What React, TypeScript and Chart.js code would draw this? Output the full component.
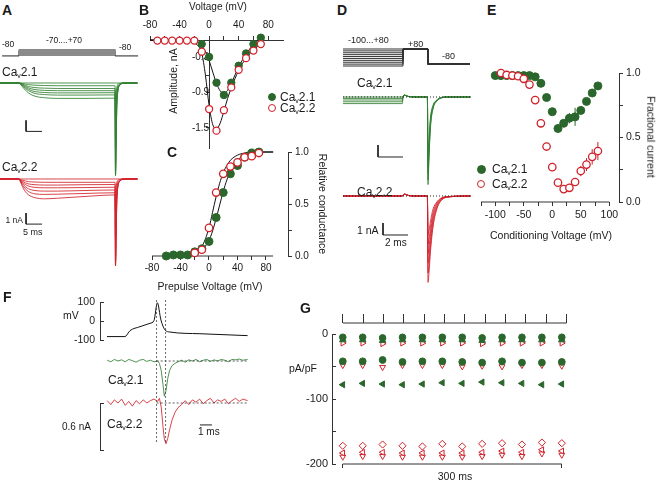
import React, { useEffect, useRef } from 'react';
import { Chart, registerables } from 'chart.js';
Chart.register(...registerables);

const FONT = "'Liberation Sans', Arial, Helvetica, sans-serif";
Chart.defaults.font.family = FONT;
const GREEN = '#2b672d';
const GREEN_TR = 'rgba(50,128,50,0.85)';
const RED = '#d0222b';
const RED_TR = 'rgba(210,34,44,0.85)';
const AX = '#333';
const TXT = '#1a1a1a';

// ---------------- Panel A (currents, nA vs ms) ----------------
const A_T = [-6, 0, 0.5, 1, 2, 3, 5, 8, 12, 20, 30, 30.15, 30.6, 31.5, 33, 37];
const A_GREEN = [
  [0, 0, 0, 0, 0, 0, 0, 0, 0, 0, 0, 0, 0, 0, 0, 0],
  [0, 0, -0.02, -0.05, -0.1, -0.15, -0.2, -0.23, -0.25, -0.25, -0.25, -1.5, -0.3, -0.05, 0, 0],
  [0, 0, -0.04, -0.1, -0.22, -0.32, -0.42, -0.47, -0.5, -0.5, -0.5, -3.5, -0.7, -0.1, 0, 0],
  [0, 0, -0.06, -0.15, -0.3, -0.45, -0.6, -0.67, -0.7, -0.7, -0.7, -6, -1.2, -0.15, 0, 0],
  [0, 0, -0.08, -0.2, -0.4, -0.58, -0.78, -0.86, -0.9, -0.9, -0.88, -8, -1.6, -0.2, 0, 0],
  [0, 0, -0.1, -0.25, -0.5, -0.7, -0.95, -1.05, -1.1, -1.1, -1.08, -8.4, -1.7, -0.2, 0, 0],
  [0, 0, -0.13, -0.32, -0.65, -0.92, -1.2, -1.34, -1.4, -1.4, -1.38, -8.4, -1.8, -0.2, 0, 0],
];
const A_RED = [
  [0, 0, 0, 0, 0, 0, 0, 0, 0, 0, 0, 0, 0, 0, 0, 0],
  [0, 0, -0.05, -0.1, -0.18, -0.24, -0.28, -0.3, -0.3, -0.3, -0.3, -1.2, -0.25, -0.05, 0, 0],
  [0, 0, -0.1, -0.2, -0.35, -0.45, -0.52, -0.55, -0.55, -0.52, -0.5, -3, -0.6, -0.1, 0, 0],
  [0, 0, -0.15, -0.3, -0.5, -0.65, -0.76, -0.8, -0.8, -0.78, -0.75, -5.5, -1.1, -0.15, 0, 0],
  [0, 0, -0.2, -0.4, -0.7, -0.9, -1.05, -1.1, -1.1, -1.05, -1.0, -7.5, -1.5, -0.2, 0, 0],
  [0, 0, -0.25, -0.5, -0.9, -1.15, -1.35, -1.4, -1.38, -1.32, -1.25, -7.9, -1.6, -0.2, 0, 0],
  [0, 0, -0.3, -0.65, -1.15, -1.45, -1.7, -1.8, -1.75, -1.6, -1.45, -7.9, -1.7, -0.2, 0, 0],
];
const A_HOLD = -80;
const A_STEPS = [-70, -60, -50, -40, -30, -20, -10, 0, 10, 20, 30, 40, 50, 60, 70];
const A_STEP_ON = 0;
const A_STEP_OFF = 30;
const A_BAR_T = [2.2, 2.2, 7.2];
const A_BAR_GREEN = [-3.4, -4.4, -4.4];
const A_BAR_RED = [-3.1, -4.1, -4.1];

// ---------------- Panel B (I-V) ----------------
const B_V_GREEN = [-10, 0, 10, 20, 30, 40, 50, 60, 70];
const B_I_GREEN = [-0.07, -0.29, -0.73, -0.94, -0.73, -0.44, -0.23, -0.07, 0.04];
const B_V_RED = [-70, -60, -50, -40, -30, -20, -10, 0, 10, 20, 30, 40, 50, 60, 70];
const B_I_RED = [-0.01, -0.01, -0.01, -0.01, -0.01, -0.01, -0.2, -1.18, -1.55, -1.2, -0.81, -0.51, -0.31, -0.18, -0.07];
const B_FIT_V = [-80, -40, -30, -20, -15, -10, -5, 0, 5, 10, 15, 20, 25, 30, 40, 50, 60, 70];
const B_FIT_GREEN = [0, 0, -0.005, -0.02, -0.05, -0.1, -0.2, -0.35, -0.55, -0.74, -0.87, -0.91, -0.86, -0.74, -0.46, -0.24, -0.08, 0.03];
const B_FIT_RED = [0, 0, -0.01, -0.05, -0.1, -0.22, -0.6, -1.12, -1.45, -1.52, -1.42, -1.22, -1.0, -0.82, -0.52, -0.31, -0.17, -0.07];

// ---------------- Panel C (activation) ----------------
const C_V_GREEN = [-60, -50, -40, -30, -20, -10, 0, 10, 20, 30, 40, 50, 60, 70];
const C_G_GREEN = [0.0, 0.01, 0.01, 0.01, 0.04, 0.07, 0.14, 0.37, 0.61, 0.79, 0.87, 0.95, 0.99, 1.0];
const C_ERR_GREEN = [0, 0, 0, 0, 0, 0.01, 0.02, 0.03, 0.03, 0.03, 0.04, 0.02, 0, 0];
const C_V_RED = [-20, -10, 0, 10, 20, 30, 40, 50, 60, 70];
const C_G_RED = [0.03, 0.06, 0.27, 0.61, 0.79, 0.86, 0.9, 0.95, 0.96, 0.99];
const C_ERR_RED = [0, 0, 0.02, 0.03, 0.02, 0.02, 0.02, 0.01, 0, 0];
const C_FIT_V = [-60, -40, -30, -20, -10, 0, 5, 10, 15, 20, 25, 30, 40, 50, 60, 70, 80, 90];
const C_FIT_GREEN = [0, 0.003, 0.007, 0.02, 0.06, 0.15, 0.24, 0.36, 0.49, 0.62, 0.73, 0.81, 0.92, 0.97, 0.99, 1.0, 1.0, 1.0];
const C_FIT_RED = [0, 0.005, 0.01, 0.03, 0.09, 0.27, 0.42, 0.57, 0.7, 0.8, 0.87, 0.92, 0.97, 0.99, 1.0, 1.0, 1.0, 1.0];

// ---------------- Panel D (inactivation traces) ----------------
const D_T = [-6.8, -2.05, -2.0, -1.85, -1.6, -1.0, -0.05, 0.0, 0.08, 0.2, 0.4, 0.7, 1.0, 1.5, 3.4];
const D_GREEN = [
  [0, 0, 0.05, 0.15, 0.05, 0, 0, -7.3, -5.0, -2.5, -1.0, -0.35, -0.1, 0, 0],
  [-0.12, -0.12, 0.05, 0.15, 0.05, 0, 0, -6.9, -4.7, -2.3, -0.9, -0.3, -0.1, 0, 0],
  [-0.25, -0.25, 0.05, 0.15, 0.05, 0, 0, -6.4, -4.4, -2.1, -0.85, -0.3, -0.08, 0, 0],
  [-0.4, -0.4, 0.05, 0.15, 0.05, 0, 0, -5.8, -4.0, -1.9, -0.8, -0.28, -0.08, 0, 0],
  [-0.55, -0.55, 0.05, 0.15, 0.05, 0, 0, -5.2, -3.6, -1.7, -0.7, -0.25, -0.07, 0, 0],
];
const D_RED = [
  [0, 0, 0.08, 0.15, 0.05, 0, 0, -7.2, -6.4, -4.6, -2.6, -1.1, -0.45, -0.1, 0],
  [0, 0, 0.08, 0.15, 0.05, 0, 0, -6.4, -5.7, -4.1, -2.3, -1.0, -0.4, -0.1, 0],
  [0, 0, 0.08, 0.15, 0.05, 0, 0, -5.6, -5.0, -3.6, -2.0, -0.85, -0.35, -0.08, 0],
  [0, 0, 0.08, 0.15, 0.05, 0, 0, -4.8, -4.3, -3.1, -1.7, -0.7, -0.3, -0.07, 0],
  [0, 0, 0.08, 0.15, 0.05, 0, 0, -4.0, -3.6, -2.6, -1.4, -0.6, -0.25, -0.05, 0],
  [0, 0, 0.08, 0.15, 0.05, 0, 0, -3.2, -2.9, -2.1, -1.1, -0.5, -0.2, -0.05, 0],
];
const D_STEPS = [-100, -80, -60, -40, -20, 0, 20, 40, 60, 80];
const D_TEST = 80;
const D_HOLD = -80;
const D_PROTO_T = [-6.8, -2, -2, 0, 0, 3.36];
const D_BAR_T = [-4, -4, -2];
const D_BAR_GREEN = [-4, -5, -5];
const D_BAR_T2 = [-3.6, -3.6, -1.6];
const D_BAR_RED = [-2.25, -3.25, -3.25];

// ---------------- Panel E (fractional current) ----------------
const E_V_GREEN = [-100, -90, -80, -70, -60, -50, -40, -30, -20, -10, 0, 10, 20, 30, 40, 50, 60, 70, 80];
const E_F_GREEN = [0.98, 0.98, 0.98, 0.98, 0.98, 0.98, 0.98, 0.97, 0.92, 0.81, 0.7, 0.57, 0.61, 0.65, 0.66, 0.71, 0.78, 0.845, 0.9];
const E_ERR_GREEN = [0, 0, 0, 0, 0, 0, 0, 0, 0, 0, 0.01, 0.01, 0.02, 0.04, 0.07, 0.03, 0.01, 0.01, 0.01];
const E_V_RED = [-90, -80, -70, -60, -50, -40, -30, -20, -10, 0, 10, 20, 30, 40, 50, 60, 70, 80];
const E_F_RED = [1.0, 0.985, 0.98, 0.975, 0.955, 0.91, 0.79, 0.61, 0.43, 0.27, 0.15, 0.1, 0.11, 0.155, 0.24, 0.29, 0.35, 0.395];
const E_ERR_RED = [0, 0, 0, 0, 0.01, 0.02, 0.02, 0.03, 0.03, 0.025, 0.02, 0.015, 0.02, 0.03, 0.04, 0.05, 0.06, 0.07];

// ---------------- Panel F (AP clamp) ----------------
const AP_T = [0.58, 2.08, 2.5, 3.33, 4.17, 4.5, 4.78, 5.08, 5.42, 5.83, 8.33, 12.3];
const AP_V = [-82, -82, -51, -30, -12, 2, 96, 5, -47, -58, -67, -77];
const F_T = [0.6, 0.9, 1.2, 1.5, 1.8, 2.1, 2.4, 2.7, 3.0, 3.3, 3.6, 3.9, 4.2, 4.5, 4.8, 4.95, 5.1, 5.25, 5.36, 5.5,
  5.65, 5.8, 6.0, 6.25, 6.5, 6.8, 7.1, 7.4, 7.7, 8.0, 8.3, 8.6, 8.9, 9.2, 9.5, 9.8, 10.1, 10.4, 10.7, 11.0, 11.3, 11.6, 11.9, 12.3];
const F_GREEN = [0.01, -0.01, 0.02, 0.0, 0.015, -0.01, 0.02, 0.005, -0.015, 0.01, 0.02, -0.005, 0.01, -0.01, 0.0, -0.03, -0.12, -0.3, -0.45, -0.38,
  -0.22, -0.12, -0.06, -0.03, -0.01, 0.01, -0.015, 0.015, 0.0, 0.02, -0.01, 0.01, 0.02, -0.005, 0.015, 0.0, 0.02, 0.01, -0.01, 0.02, 0.015, 0.025, 0.01, 0.02];
const F_RED = [0.03, -0.02, 0.04, 0.0, 0.05, -0.03, 0.02, -0.04, 0.03, -0.01, 0.04, 0.0, 0.03, 0.05, 0.02, 0.06, -0.05, -0.3, -0.46, -0.52,
  -0.45, -0.34, -0.22, -0.12, -0.06, -0.02, 0.03, -0.02, 0.04, 0.01, 0.05, -0.01, 0.03, 0.06, 0.0, 0.04, 0.02, 0.05, -0.01, 0.03, 0.06, 0.02, 0.05, 0.03];
const F_MARK_T = [4.72, 5.47];
const F_BASE_T = [4.72, 12.3];
const F_BAR_T = [8.33, 9.33];
const F_BAR_I = [-0.28, -0.28];

// ---------------- Panel G (pA/pF per pulse) ----------------
const G_PULSE = [1, 2, 3, 4, 5, 6, 7, 8, 9, 10, 11, 12];
const G_S1 = [-5, -5, -6, -5, -5, -5, -5, -6, -5, -5, -5, -5];
const G_S2 = [-9, -9, -10, -9, -9, -9, -9, -10, -9, -9, -9, -9];
const G_S3 = [-14, -14, -15, -14, -14, -14, -14, -15, -14, -14, -14, -14];
const G_S4 = [-42, -42, -40, -43, -42, -42, -43, -44, -42, -44, -44, -43];
const G_S5 = [-48, -48, -51, -48, -48, -48, -50, -49, -50, -48, -48, -49];
const G_S6 = [-78, -76, -77, -78, -77, -75, -76, -74, -75, -76, -78, -77];
const G_S7 = [-172, -172, -170, -172, -173, -169, -173, -169, -168, -170, -167, -168];
const G_S8 = [-183, -182, -182, -183, -183, -183, -183, -182, -180, -182, -178, -180];
const G_S9 = [-189, -188, -188, -189, -189, -189, -189, -188, -186, -188, -184, -186];

// ---------------- helpers ----------------
const xy = (xs: number[], ys: number[]) => xs.map((x, i) => ({ x, y: ys[i] }));

const line = (pts: any[], color: string, width = 1, extra: any = {}) => ({
  data: pts, borderColor: color, borderWidth: width, pointRadius: 0, fill: false,
  tension: 0, clip: false, ...extra,
});
const smooth = (pts: any[], color: string, width = 1, extra: any = {}) =>
  line(pts, color, width, { cubicInterpolationMode: 'monotone', ...extra });

const marks = (pts: any[], fill: string, stroke: string, r = 4, style: any = 'circle', rot = 0, bw = 1.2, extra: any = {}) => ({
  data: pts, showLine: false, pointRadius: r, pointStyle: style, pointRotation: rot,
  pointBackgroundColor: fill, pointBorderColor: stroke, pointBorderWidth: bw,
  borderColor: stroke, backgroundColor: fill, clip: false, ...extra,
});

const hidden = (min: number, max: number) => ({ type: 'linear', display: false, min, max });

function axis(o: any) {
  const { min, max, position, ticks, labels = ticks, fmt = (v: number) => String(v), tl = 4, pad = 3, fit, border = true, size = 10 } = o;
  return {
    type: 'linear', min, max, position,
    afterBuildTicks: (s: any) => { s.ticks = ticks.map((v: number) => ({ value: v })); },
    afterFit: fit === undefined ? undefined : (s: any) => { if (s.isHorizontal()) s.height = fit; else s.width = fit; },
    grid: { drawOnChartArea: false, drawTicks: true, tickLength: tl, color: AX, lineWidth: 1 },
    border: { display: border, color: AX, width: 1 },
    ticks: {
      autoSkip: false, maxRotation: 0, minRotation: 0, padding: pad, color: TXT, font: { size, family: FONT },
      callback: (v: number) => (labels.some((l: number) => Math.abs(l - v) < 1e-9) ? fmt(v) : ''),
    },
  };
}

const errPlugin = {
  id: 'errbars',
  beforeDatasetsDraw(chart: any) {
    const ctx = chart.ctx;
    const ys = chart.scales.y;
    chart.data.datasets.forEach((ds: any, i: number) => {
      if (!ds.errs) return;
      const meta = chart.getDatasetMeta(i);
      ctx.save();
      ctx.strokeStyle = ds.pointBorderColor;
      ctx.lineWidth = 1;
      ds.data.forEach((p: any, j: number) => {
        const e = ds.errs[j];
        if (!e) return;
        const px = meta.data[j].x;
        ctx.beginPath();
        ctx.moveTo(px, ys.getPixelForValue(p.y - e));
        ctx.lineTo(px, ys.getPixelForValue(p.y + e));
        ctx.stroke();
      });
      ctx.restore();
    });
  },
};

function cfg(datasets: any[], scales: any, padding: any = 0, plugins: any[] = []) {
  return {
    type: 'line',
    data: { datasets },
    plugins,
    options: {
      animation: false, responsive: false, devicePixelRatio: 1, events: [],
      layout: { padding },
      plugins: { legend: { display: false }, tooltip: { enabled: false } },
      scales,
    },
  };
}

function ChartBox({ x, y, w, h, make }: any) {
  const ref = useRef<HTMLCanvasElement>(null);
  useEffect(() => {
    const c = new Chart(ref.current as any, make());
    return () => c.destroy();
  }, []);
  return <canvas ref={ref} width={w} height={h} style={{ position: 'absolute', left: x, top: y, width: w, height: h }} />;
}

// ---------------- chart builders ----------------
const A_X = hidden(-5.94, 37.81);

const mkAProto = () => {
  const ds: any[] = [
    line(xy([-5.3, A_STEP_ON], [A_HOLD, A_HOLD]), '#222'),
    line(xy([A_STEP_OFF, 37.2], [A_HOLD, A_HOLD]), '#222'),
  ];
  A_STEPS.forEach((L) => ds.push(line(xy([A_STEP_ON, A_STEP_ON, A_STEP_OFF, A_STEP_OFF], [A_HOLD, L, L, A_HOLD]), '#8a8a8a')));
  return cfg(ds, { x: A_X, y: hidden(-151.7, 128.3) });
};
const mkATraces = (traces: number[][], color: string, bar: number[], ymin: number, ymax: number) => () => {
  const ds: any[] = [line(xy(A_BAR_T, bar), '#222')];
  traces.forEach((tr) => ds.push(smooth(xy(A_T, tr), color)));
  return cfg(ds, { x: A_X, y: hidden(ymin, ymax) });
};

const mkB = () => cfg(
  [
    marks(xy(B_V_RED, B_I_RED), '#fff', RED, 3.5, 'circle', 0, 1.3),
    marks(xy(B_V_GREEN, B_I_GREEN), GREEN, GREEN, 3.7, 'circle', 0, 1),
    smooth(xy(B_FIT_V, B_FIT_RED), '#111', 1),
    smooth(xy(B_FIT_V, B_FIT_GREEN), '#111', 1),
  ],
  {
    x: axis({ min: -80, max: 100, position: 'top', ticks: [-80, -60, -40, -20, 0, 20, 40, 60, 80], labels: [-80, -40, 0, 40, 80], tl: 4, pad: 5, fit: 25 }),
    y: axis({ min: -1.846, max: 0, position: { x: 0 }, ticks: [-1.5, -1.2, -0.9, -0.6, -0.3], labels: [-1.5, -0.9, -0.3], fmt: (v: number) => v.toFixed(1), tl: 3, pad: 3 }),
  },
  { left: 13, right: 7, bottom: 10, top: 0 },
);

const mkC = () => cfg(
  [
    { ...marks(xy(C_V_RED, C_G_RED), '#fff', RED, 3.7, 'circle', 0, 1.3), errs: C_ERR_RED },
    { ...marks(xy(C_V_GREEN, C_G_GREEN), GREEN, GREEN, 4, 'circle', 0, 1), errs: C_ERR_GREEN },
    smooth(xy(C_FIT_V, C_FIT_RED), '#111', 1),
    smooth(xy(C_FIT_V, C_FIT_GREEN), '#111', 1),
    line(xy([-80, 90], [0, 0]), AX, 1),
  ],
  {
    x: axis({ min: -80, max: 110.9, position: 'bottom', ticks: [-80, -60, -40, -20, 0, 20, 40, 60, 80], labels: [-80, -40, 0, 40, 80], tl: 4, pad: 2, fit: 44, border: false }),
    y: axis({ min: 0, max: 1, position: 'right', ticks: [0, 0.25, 0.5, 0.75, 1], labels: [0, 0.5, 1], fmt: (v: number) => v.toFixed(1), tl: 4, pad: 3, fit: 32 }),
  },
  { left: 12, top: 12, right: 0, bottom: 0 },
  [errPlugin],
);

const D_X = hidden(-7.04, 3.52);
const mkDProto = () => {
  const ds: any[] = [];
  D_STEPS.forEach((L) => ds.push(line(xy(D_PROTO_T, [L, L, D_TEST, D_TEST, D_HOLD, D_HOLD]), '#333')));
  return cfg(ds, { x: D_X, y: hidden(-142.35, 122.35) });
};
const mkDTraces = (traces: number[][], color: string, barT: number[], bar: number[]) => () => {
  const ds: any[] = [
    line(xy([-6.8, 3.4], [0, 0]), '#222', 1, { borderDash: [1, 2] }),
    line(xy(barT, bar), '#222'),
  ];
  traces.forEach((tr) => ds.push(smooth(xy(D_T, tr), color)));
  return cfg(ds, { x: D_X, y: hidden(-7.75, 0.583) });
};

const mkE = () => cfg(
  [
    { ...marks(xy(E_V_RED, E_F_RED), '#fff', RED, 3.7, 'circle', 0, 1.3), errs: E_ERR_RED },
    { ...marks(xy(E_V_GREEN, E_F_GREEN), GREEN, GREEN, 4, 'circle', 0, 1), errs: E_ERR_GREEN },
    line(xy([-125, 100], [0, 0]), AX, 1),
  ],
  {
    x: axis({ min: -125, max: 117, position: 'bottom', ticks: [-125, -100, -75, -50, -25, 0, 25, 50, 75, 100], labels: [-100, -50, 0, 50, 100], tl: 4, pad: 3, fit: 43, border: false, size: 10.5 }),
    y: axis({ min: 0, max: 1, position: 'right', ticks: [0, 0.25, 0.5, 0.75, 1], labels: [0, 0.5, 1], fmt: (v: number) => v.toFixed(1), tl: 4, pad: 3, fit: 37, size: 10.5 }),
  },
  { left: 11, top: 13, right: 0, bottom: 0 },
  [errPlugin],
);

const F_X = hidden(0, 12.917);
// AP chart: canvas top 286 -> chart area 302..340
const mkFAP = () => cfg(
  [smooth(xy(AP_T, AP_V), '#111', 1)],
  {
    x: F_X,
    y: axis({ min: -100, max: 100, position: 'left', ticks: [-100, 0, 100], tl: -4, pad: 9, fit: 40, size: 10.5 }),
  },
  { top: 16, bottom: 16, left: 0, right: 0 },
);
const mkFGreen = () => cfg(
  [
    line(xy(F_BASE_T, [0, 0]), '#333', 0.8, { borderDash: [2, 2] }),
    line(xy(F_T, F_GREEN), GREEN_TR, 1),
  ],
  { x: F_X, y: hidden(-0.498, 0.1405) },
  { left: 5 },
);
// red current chart: canvas top 387 -> chart area 403..450
const mkFRed = () => cfg(
  [
    line(xy(F_BASE_T, [0, 0]), '#333', 0.8, { borderDash: [2, 2] }),
    line(xy(F_BAR_T, F_BAR_I), '#222', 1),
    line(xy(F_T, F_RED), RED_TR, 1),
  ],
  {
    x: F_X,
    y: axis({ min: -0.6, max: 0, position: 'left', ticks: [-0.6, 0], labels: [], tl: -4, pad: 9, fit: 40 }),
  },
  { top: 16, bottom: 16, left: 0, right: 0 },
);
const mkFOverlay = () => cfg(
  F_MARK_T.map((t) => line(xy([t, t], [151, 7]), '#444', 0.8, { borderDash: [2, 2] })),
  { x: F_X, y: hidden(0, 155) },
  { left: 5 },
);

const G_XR = { min: 0.4587, max: 12.713 };
// main G chart: canvas top 318 -> chart area 334..464
const mkG = () => cfg(
  [
    marks(xy(G_PULSE, G_S1), GREEN, GREEN, 3.3, 'circle', 0, 1),
    marks(xy(G_PULSE, G_S2), GREEN, GREEN, 3.8, 'triangle', 0, 1),
    marks(xy(G_PULSE, G_S3), '#fff', RED, 3.4, 'triangle', 90, 1),
    marks(xy(G_PULSE, G_S4), GREEN, GREEN, 3.4, 'circle', 0, 1),
    marks(xy(G_PULSE, G_S5), '#fff', RED, 3.4, 'triangle', 180, 1),
    marks(xy(G_PULSE, G_S6), GREEN, GREEN, 3.6, 'triangle', 270, 1),
    marks(xy(G_PULSE, G_S7), '#fff', RED, 3.6, 'rectRot', 0, 1),
    marks(xy(G_PULSE, G_S8), '#fff', RED, 3.4, 'triangle', 270, 1),
    marks(xy(G_PULSE, G_S9), '#fff', RED, 3.4, 'triangle', 180, 1),
    line(xy([1, 12], [-200, -200]), AX, 1),
  ],
  {
    x: axis({ ...G_XR, position: 'bottom', ticks: [1, 12], labels: [], tl: 4, pad: 0, fit: 17, border: false }),
    y: axis({ min: -200, max: 0, position: 'left', ticks: [-200, -150, -100, -50, 0], labels: [-200, -100, 0], tl: -4, pad: 8, fit: 42, size: 11 }),
  },
  { top: 16, right: 0, bottom: 0, left: 0 },
);
const mkGComb = () => cfg(
  [line(xy([1, 12], [1, 1]), '#333', 1)],
  {
    x: axis({ ...G_XR, position: 'top', ticks: G_PULSE, labels: [], tl: 9, pad: 0, fit: 13, border: false }),
    y: hidden(0, 1),
  },
  { left: 42, right: 0, top: 0, bottom: 0 },
);

// ---------------- text ----------------
function Txt({ x, y, s = 10, a = 'l', b = false, r = 0, children }: any) {
  const tx = a === 'l' ? '0%' : a === 'c' ? '-50%' : '-100%';
  return (
    <div style={{
      position: 'absolute', left: x, top: y,
      transform: `translate(${tx}, -50%)` + (r ? ` rotate(${r}deg)` : ''),
      fontSize: s, fontWeight: b ? 700 : 400, lineHeight: 1, whiteSpace: 'nowrap', color: TXT, fontFamily: FONT,
    }}>{children}</div>
  );
}
const Cav = ({ n }: any) => (
  <span>Ca<span style={{ fontSize: '0.58em', position: 'relative', top: '0.35em' }}>v</span>{n}</span>
);
const Dot = ({ x, y, r = 4.3, fill, stroke }: any) => (
  <div style={{ position: 'absolute', left: x - r, top: y - r, width: 2 * r, height: 2 * r, borderRadius: '50%', background: fill, border: `1.3px solid ${stroke}`, boxSizing: 'border-box' }} />
);

export default function App() {
  return (
    <div style={{ position: 'absolute', left: 0, top: 0, width: 656, height: 481, background: '#fff', overflow: 'hidden', fontFamily: FONT }}>
      {/* Panel A */}
      <ChartBox x={0} y={47} w={140} h={12} make={mkAProto} />
      <ChartBox x={0} y={78} w={140} h={102} make={mkATraces(A_GREEN, GREEN_TR, A_BAR_GREEN, -8.818, 0.4545)} />
      <ChartBox x={0} y={172} w={140} h={96} make={mkATraces(A_RED, RED_TR, A_BAR_RED, -8.09, 0.636)} />
      {/* Panel B, C */}
      <ChartBox x={137} y={15} w={153} h={143} make={mkB} />
      <ChartBox x={140} y={140} w={180} h={160} make={mkC} />
      {/* Panel D */}
      <ChartBox x={340} y={45} w={132} h={25} make={mkDProto} />
      <ChartBox x={340} y={90} w={132} h={100} make={mkDTraces(D_GREEN, GREEN_TR, D_BAR_T, D_BAR_GREEN)} />
      <ChartBox x={340} y={189} w={132} h={100} make={mkDTraces(D_RED, RED_TR, D_BAR_T2, D_BAR_RED)} />
      {/* Panel E */}
      <ChartBox x={470} y={60} w={186} h={185} make={mkE} />
      {/* Panel F */}
      <ChartBox x={60} y={286} w={195} h={70} make={mkFAP} />
      <ChartBox x={95} y={350} w={160} h={50} make={mkFGreen} />
      <ChartBox x={60} y={387} w={195} h={79} make={mkFRed} />
      <ChartBox x={95} y={296} w={160} h={155} make={mkFOverlay} />
      {/* Panel G */}
      <ChartBox x={290} y={310} w={291} h={16} make={mkGComb} />
      <ChartBox x={290} y={318} w={291} h={163} make={mkG} />

      {/* panel letters */}
      <Txt x={2} y={10} s={14} b>A</Txt>
      <Txt x={139} y={10} s={14} b>B</Txt>
      <Txt x={167} y={152} s={14} b>C</Txt>
      <Txt x={337} y={10} s={14} b>D</Txt>
      <Txt x={487} y={10} s={14} b>E</Txt>
      <Txt x={3} y={297} s={14} b>F</Txt>
      <Txt x={300} y={308} s={14} b>G</Txt>

      {/* A texts */}
      <Txt x={2} y={44} s={8.5}>-80</Txt>
      <Txt x={64} y={39.5} s={8.5} a="c">-70....+70</Txt>
      <Txt x={119} y={47} s={8.5}>-80</Txt>
      <Txt x={2} y={72} s={12}><Cav n="2.1" /></Txt>
      <Txt x={2} y={167} s={12}><Cav n="2.2" /></Txt>
      <Txt x={23} y={220} s={8.5} a="r">1 nA</Txt>
      <Txt x={23} y={231.5} s={9}>5 ms</Txt>

      {/* B texts */}
      <Txt x={218} y={7} s={10} a="c">Voltage (mV)</Txt>
      <Txt x={173} y={81} s={10.5} a="c" r={-90}>Amplitude, nA</Txt>
      <Dot x={272} y={97} r={4.2} fill={GREEN} stroke={GREEN} />
      <Txt x={280} y={97} s={12}><Cav n="2.1" /></Txt>
      <Dot x={272} y={108} r={4.2} fill="#fff" stroke={RED} />
      <Txt x={280} y={108} s={12}><Cav n="2.2" /></Txt>

      {/* C texts */}
      <Txt x={210} y={286} s={10.5} a="c">Prepulse Voltage (mV)</Txt>
      <Txt x={323} y={204} s={10.5} a="c" r={90}>Relative conductance</Txt>

      {/* D texts */}
      <Txt x={348} y={39.5} s={9}>-100...+80</Txt>
      <Txt x={408} y={44} s={9}>+80</Txt>
      <Txt x={442} y={56} s={9}>-80</Txt>
      <Txt x={357} y={83} s={12}><Cav n="2.1" /></Txt>
      <Txt x={357} y={192} s={12}><Cav n="2.2" /></Txt>
      <Txt x={357} y={230} s={10.5}>1 nA</Txt>
      <Txt x={385} y={243} s={10}>2 ms</Txt>

      {/* E texts */}
      <Txt x={551} y={235} s={10.5} a="c">Conditioning Voltage (mV)</Txt>
      <Txt x={651} y={137} s={10.5} a="c" r={90}>Fractional current</Txt>
      <Dot x={481} y={169} r={4.5} fill={GREEN} stroke={GREEN} />
      <Txt x={492} y={169} s={12}><Cav n="2.1" /></Txt>
      <Dot x={481} y={184} r={4.3} fill="#fff" stroke={RED} />
      <Txt x={492} y={184} s={12}><Cav n="2.2" /></Txt>

      {/* F texts */}
      <Txt x={63} y={315} s={10.5}>mV</Txt>
      <Txt x={108} y={380} s={12}><Cav n="2.1" /></Txt>
      <Txt x={107} y={424} s={12}><Cav n="2.2" /></Txt>
      <Txt x={62} y={427} s={10}>0.6 nA</Txt>
      <Txt x={198} y={432} s={10}>1 ms</Txt>

      {/* G texts */}
      <Txt x={303} y={368} s={10.5} a="c">pA/pF</Txt>
      <Txt x={455} y={476} s={10.5} a="c">300 ms</Txt>
    </div>
  );
}
